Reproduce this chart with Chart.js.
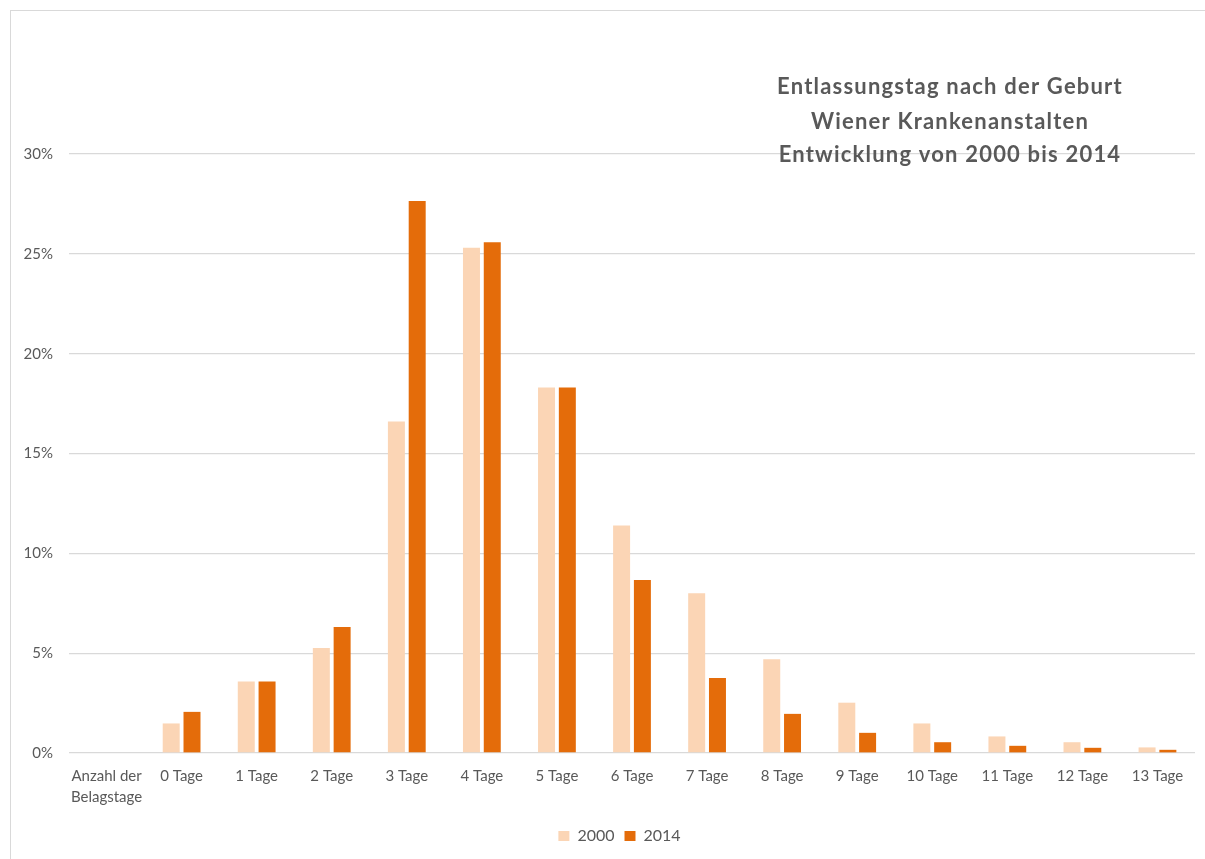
<!DOCTYPE html>
<html>
<head>
<meta charset="utf-8">
<script src="https://cdn.jsdelivr.net/npm/chart.js@4"></script>
<style>
  html, body { margin: 0; padding: 0; background: #fff; }
  #frame { position: absolute; left: 10px; top: 10px; width: 1300px; height: 900px;
           border-top: 1px solid #d9d9d9; border-left: 1px solid #d9d9d9; }
  #wrap { position: absolute; left: 0; top: 0; width: 1205px; height: 859px; }
</style>
</head>
<body>
<div id="frame"></div>
<div id="wrap"><canvas id="chart"></canvas></div>
<script>
// ===== Data =====
const categories = [['Anzahl der', 'Belagstage'], '0 Tage', '1 Tage', '2 Tage', '3 Tage', '4 Tage',
  '5 Tage', '6 Tage', '7 Tage', '8 Tage', '9 Tage', '10 Tage', '11 Tage', '12 Tage', '13 Tage'];
const series2000 = [null, 1.48, 3.58, 5.26, 16.6, 25.3, 18.3, 11.4, 8.0, 4.7, 2.52, 1.48, 0.83, 0.54, 0.28];
const series2014 = [null, 2.06, 3.58, 6.31, 27.65, 25.58, 18.3, 8.66, 3.76, 1.96, 1.01, 0.54, 0.36, 0.26, 0.16];
const yTicks = [0, 5, 10, 15, 20, 25, 30];
const titleLines = ['Entlassungstag nach der Geburt', 'Wiener Krankenanstalten', 'Entwicklung von 2000 bis 2014'];

const TEXT = '#595959';
const GRID = '#d9d9d9';
const FONT = 'Lato, "Open Sans", sans-serif';

// Title sits inside the plot area, over the top gridline
const titlePlugin = {
  id: 'insideTitle',
  afterDraw(chart) {
    const ctx = chart.ctx;
    ctx.save();
    ctx.fillStyle = TEXT;
    ctx.font = 'bold 22px ' + FONT;
    ctx.letterSpacing = '1.2px';
    ctx.textAlign = 'center';
    ctx.textBaseline = 'middle';
    const ys = [87, 122, 155];
    titleLines.forEach((t, i) => ctx.fillText(t, 950, ys[i]));
    ctx.restore();
  },
};

// The original legend is centred a little right of the canvas middle
const legendShift = {
  id: 'legendShift',
  afterLayout(chart) {
    chart.legend.left += 22;
    chart.legend.right += 22;
  },
};

new Chart(document.getElementById('chart'), {
  type: 'bar',
  data: {
    labels: categories,
    datasets: [
      { label: '2000', data: series2000, backgroundColor: '#fbd5b5', borderWidth: 0,
        categoryPercentage: 0.554, barPercentage: 0.817 },
      { label: '2014', data: series2014, backgroundColor: '#e46c0a', borderWidth: 0,
        categoryPercentage: 0.554, barPercentage: 0.817 },
    ],
  },
  options: {
    responsive: true,
    maintainAspectRatio: false,
    animation: false,
    layout: { padding: { top: 154, right: 10, bottom: 5, left: 0 } },
    plugins: {
      legend: {
        position: 'bottom',
        labels: { color: TEXT, font: { family: FONT, size: 16 }, boxWidth: 11, boxHeight: 10, padding: 10 },
      },
      tooltip: { enabled: false },
    },
    scales: {
      x: {
        grid: { display: false, drawTicks: false },
        border: { display: false },
        ticks: { color: TEXT, font: { family: FONT, size: 15, lineHeight: 1.45 }, padding: 12,
                 maxRotation: 0, autoSkip: false },
        afterFit(scale) { scale.height = 65; },
      },
      y: {
        min: 0, max: 30,
        afterBuildTicks(scale) { scale.ticks = yTicks.map(v => ({ value: v })); },
        grid: { color: GRID, lineWidth: 1.3, drawTicks: false },
        border: { display: false },
        ticks: { color: TEXT, font: { family: FONT, size: 15 }, padding: 16, callback: v => v + '%' },
        afterFit(scale) { scale.width = 69; },
      },
    },
  },
  plugins: [titlePlugin, legendShift],
});
</script>
</body>
</html>
